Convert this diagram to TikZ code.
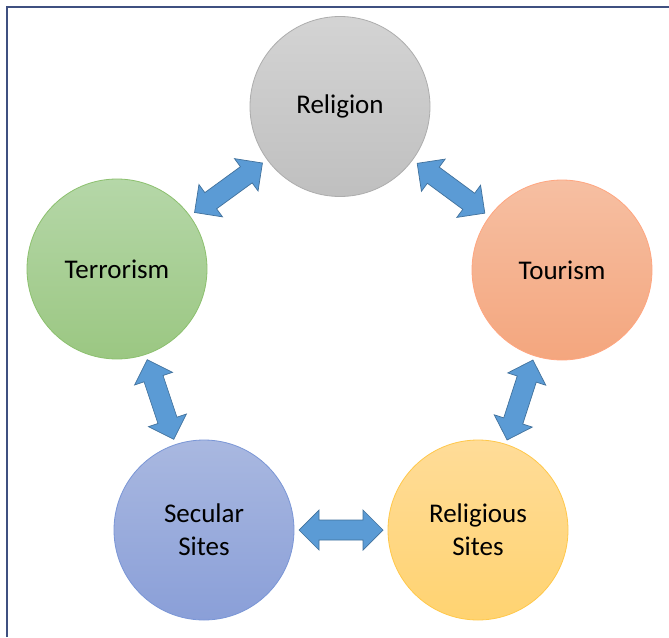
\documentclass[tikz,border=0pt]{standalone}
\usepackage{fontspec}
\setmainfont{Carlito}
\usetikzlibrary{calc}
\definecolor{framec}{HTML}{3F5080}
\definecolor{arrfill}{HTML}{5B9BD5}
\definecolor{arrline}{HTML}{41719C}
\tikzset{
  bubble/.style={circle, minimum size=180pt, inner sep=0pt, line width=0.8pt, align=center,
    font=\fontsize{27}{33}\selectfont, text=black},
  greyb/.style={bubble, draw=black!32, top color=black!17, bottom color=black!25},
  orangeb/.style={bubble, draw=orange!60!red!50, top color={rgb,255:red,246;green,191;blue,162}, bottom color={rgb,255:red,244;green,166;blue,126}},
  greenb/.style={bubble, draw={rgb,255:red,140;green,192;blue,110}, top color={rgb,255:red,181;green,215;blue,168}, bottom color={rgb,255:red,155;green,199;blue,130}},
  blueb/.style={bubble, draw={rgb,255:red,122;green,150;blue,214}, top color={rgb,255:red,169;green,184;blue,224}, bottom color={rgb,255:red,138;green,159;blue,216}},
  yellowb/.style={bubble, draw={rgb,255:red,255;green,200;blue,74}, top color={rgb,255:red,255;green,220;blue,152}, bottom color={rgb,255:red,255;green,211;blue,113}},
  blockarrow/.style={fill=arrfill, draw=arrline, line width=0.7pt, line join=miter},
  frameline/.style={draw=framec, line width=2pt}
}
\newcommand{\dblarr}[3]{%
  \coordinate (#3) at ($(#1)!0.5!(#2)$);
  \coordinate (#3t1) at ($(#3)!42pt!(#2)$);
  \coordinate (#3b1) at ($(#3)!22pt!(#2)$);
  \coordinate (#3t2) at ($(#3)!42pt!(#1)$);
  \coordinate (#3b2) at ($(#3)!22pt!(#1)$);
  \draw[blockarrow] (#3t1)
    -- ($(#3b1)!20pt!90:(#2)$) -- ($(#3b1)!10pt!90:(#2)$)
    -- ($(#3b2)!10pt!-90:(#1)$) -- ($(#3b2)!20pt!-90:(#1)$)
    -- (#3t2)
    -- ($(#3b2)!20pt!90:(#1)$) -- ($(#3b2)!10pt!90:(#1)$)
    -- ($(#3b1)!10pt!-90:(#2)$) -- ($(#3b1)!20pt!-90:(#2)$)
    -- cycle;
}
\begin{document}
\begin{tikzpicture}[x=1pt,y=-1pt]
\useasboundingbox (0,0) rectangle (669,637);
\fill[white] (0,0) rectangle (669,637);
\coordinate (fa) at (7,637);
\coordinate (fb) at (7,6.7);
\coordinate (fc) at (669,6.7);
\draw[frameline] (fa) -- (fb) -- (fc);
\node[greyb] (rel) at (340,106.5) {Religion};
\node[orangeb] (tou) at (562,270) {Tourism};
\node[greenb] (ter) at (117,269) {Terrorism};
\node[blueb] (sec) at (204,530) {Secular\\Sites};
\node[yellowb] (rsi) at (478,530) {Religious\\Sites};
\dblarr{ter}{rel}{a1}
\dblarr{rel}{tou}{a2}
\dblarr{tou}{rsi}{a3}
\dblarr{sec}{rsi}{a4}
\dblarr{ter}{sec}{a5}
\end{tikzpicture}
\end{document}
